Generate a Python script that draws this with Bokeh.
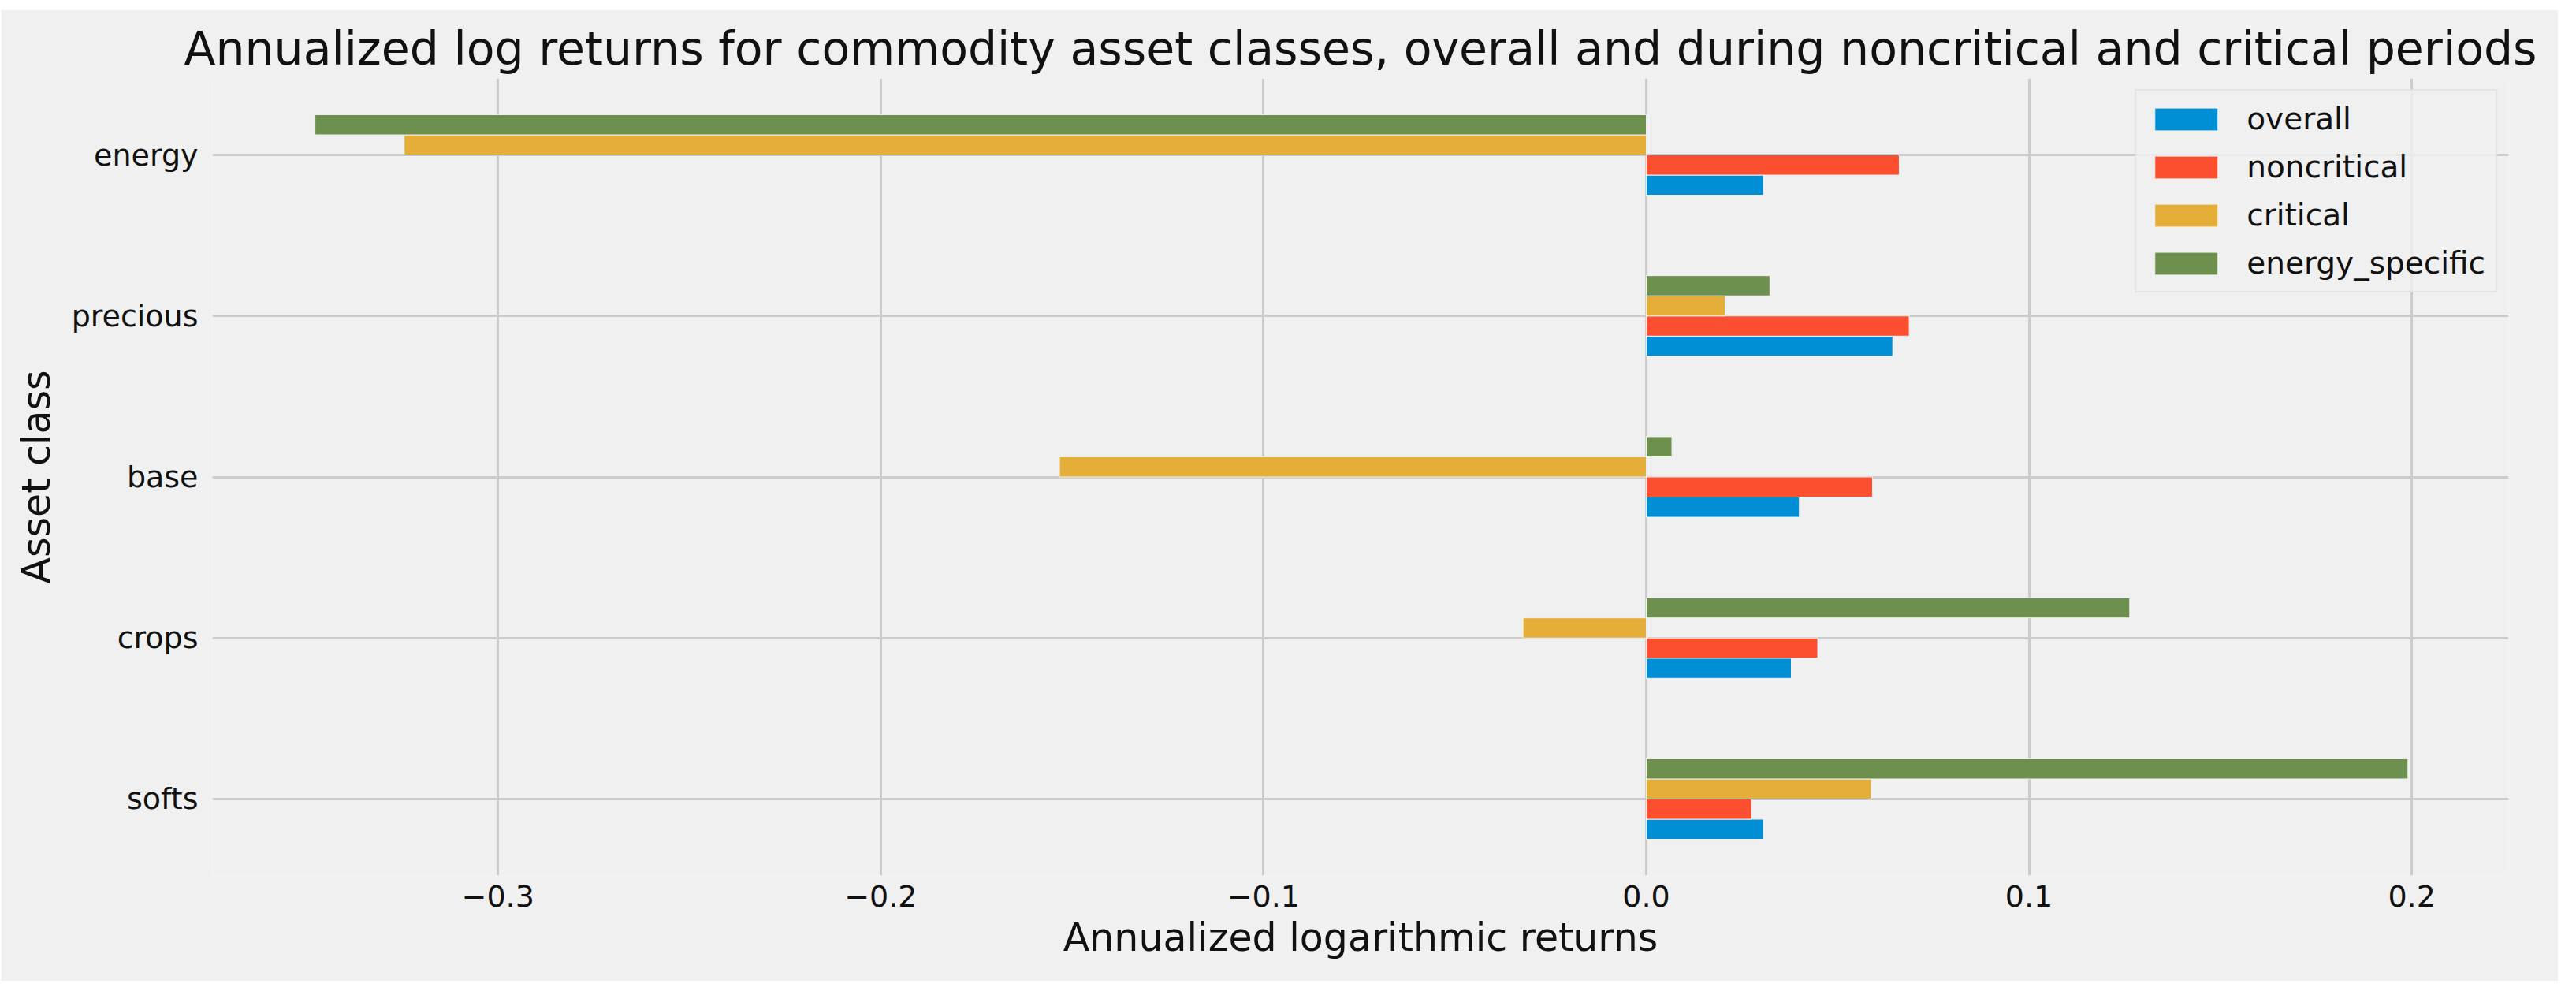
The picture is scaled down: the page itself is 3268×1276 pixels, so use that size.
from bokeh.plotting import figure
from bokeh.models import (ColumnDataSource, Range1d, FixedTicker, CustomJSTickFormatter,
                          Legend, LegendItem)
from bokeh.embed import file_html
from bokeh.resources import INLINE

# ---- data (categories listed bottom to top, as drawn) ----
categories = ["softs", "crops", "base", "precious", "energy"]
series_names = ["overall", "noncritical", "critical", "energy_specific"]
overall = [0.0306, 0.0379, 0.0400, 0.0644, 0.0306]
noncritical = [0.0275, 0.0448, 0.0591, 0.0687, 0.0661]
critical = [0.0588, -0.0322, -0.1533, 0.0206, -0.3245]
energy_specific = [0.1990, 0.1263, 0.0067, 0.0323, -0.3478]
x_ticks = [-0.3, -0.2, -0.1, 0.0, 0.1, 0.2]

series_values = [overall, noncritical, critical, energy_specific]
colors = ["#008fd5", "#fc4f30", "#e5ae38", "#6d904f"]

BG = "#f0f0f0"
FONT = "DejaVu Sans"
TXT = "#111111"

group_width = 0.5
bar_h = group_width / len(series_names)

p = figure(width=3244, height=1232, output_backend="svg", toolbar_location=None,
           x_range=Range1d(-0.3746, 0.2253), y_range=Range1d(-0.475, 4.475),
           min_border_left=268, min_border_right=63, min_border_top=87, min_border_bottom=134,
           background_fill_color=BG, border_fill_color=BG, outline_line_color=None)
p.margin = (12, 0, 0, 1)

p.title.text = "Annualized log returns for commodity asset classes, overall and during noncritical and critical periods"
p.title.text_font = FONT
p.title.text_font_size = "58.5px"
p.title.text_font_style = "normal"
p.title.text_color = TXT
p.title.align = "center"
p.title.standoff = 8

renderers = []
for j, (name, vals) in enumerate(zip(series_names, series_values)):
    ys = [i + (j - (len(series_names) - 1) / 2) * bar_h for i in range(len(categories))]
    src = ColumnDataSource(dict(y=ys, right=vals, left=[0.0] * len(vals)))
    r = p.hbar(y="y", left="left", right="right", height=bar_h, source=src,
               fill_color=colors[j], line_color=BG, line_width=1)
    renderers.append((name, r))

# axes
p.xaxis.ticker = FixedTicker(ticks=x_ticks)
p.xaxis.formatter = CustomJSTickFormatter(code="return tick.toFixed(1).replace('-', '\u2212');")
p.yaxis.ticker = FixedTicker(ticks=list(range(len(categories))))
p.yaxis.major_label_overrides = {i: c for i, c in enumerate(categories)}

for ax in (p.xaxis[0], p.yaxis[0]):
    ax.axis_line_color = None
    ax.major_tick_line_color = None
    ax.minor_tick_line_color = None
    ax.major_tick_out = 0
    ax.major_tick_in = 0
    ax.major_label_text_font = FONT
    ax.major_label_text_font_size = "38px"
    ax.major_label_text_color = TXT
    ax.axis_label_text_font = FONT
    ax.axis_label_text_font_size = "49px"
    ax.axis_label_text_font_style = "normal"
    ax.axis_label_text_color = TXT

p.xaxis.axis_label = "Annualized logarithmic returns"
p.yaxis.axis_label = "Asset class"
p.xaxis.major_label_standoff = 12
p.yaxis.major_label_standoff = 18
p.xaxis.axis_label_standoff = 8
p.yaxis.axis_label_standoff = 13

for g in (p.xgrid[0], p.ygrid[0]):
    g.grid_line_color = "#cbcbcb"
    g.grid_line_width = 3
p.xgrid.ticker = FixedTicker(ticks=x_ticks)
p.ygrid.ticker = FixedTicker(ticks=list(range(len(categories))))

legend = Legend(items=[LegendItem(label=n, renderers=[r]) for n, r in renderers],
                location="top_right", margin=14, padding=13, spacing=16,
                glyph_width=100, glyph_height=36, label_height=45, label_standoff=27,
                label_text_font=FONT, label_text_font_size="39px", label_text_color=TXT,
                background_fill_color=BG, background_fill_alpha=0.8,
                border_line_color="#d8d8d8", border_line_width=2)
p.add_layout(legend)

open("out.html", "w").write(file_html(p, INLINE))
